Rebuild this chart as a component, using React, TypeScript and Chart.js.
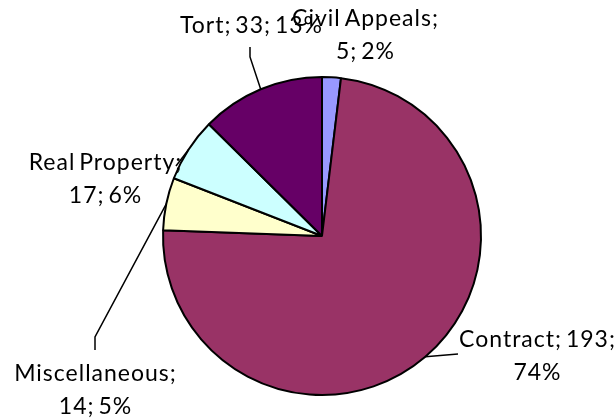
import React, { useEffect, useRef } from "react";
import { Chart, registerables } from "chart.js";

Chart.register(...registerables);

const categories = ["Civil Appeals", "Contract", "Miscellaneous", "Real Property", "Tort"];
const values = [5, 193, 14, 17, 33];
const colors = ["#9999FF", "#993366", "#FFFFCC", "#CCFFFF", "#660066"];

// label layout: centre x, baseline of first line, line break after which part (0 = single line), leader bend points
const labelLayout = [
  { cx: 365, by: 26, breakAfter: 1, leader: [] as number[][] },
  { cx: 537, by: 347, breakAfter: 2, leader: [[458, 354]] },
  { cx: 95, by: 381, breakAfter: 1, leader: [[95, 337], [95, 350]] },
  { cx: 105, by: 170, breakAfter: 1, leader: [[176, 166]] },
  { cx: 251, by: 33, breakAfter: 0, leader: [[250, 57], [250, 47]] },
];

const FONT = "23px Lato";
const LETTER_SPACING = 1.0;
const WORD_SPACING = -3;
const LINE_H = 33;

const labelPlugin = {
  id: "pieLabels",
  afterDraw(chart: any) {
    const ctx = chart.ctx as CanvasRenderingContext2D;
    const meta = chart.getDatasetMeta(0);
    const data = chart.data.datasets[0].data as number[];
    const total = data.reduce((a, b) => a + b, 0);
    ctx.save();
    meta.data.forEach((arc: any, i: number) => {
      const lay = labelLayout[i];
      const mid = (arc.startAngle + arc.endAngle) / 2;
      const ex = arc.x + Math.cos(mid) * arc.outerRadius;
      const ey = arc.y + Math.sin(mid) * arc.outerRadius;
      if (lay.leader.length) {
        ctx.beginPath();
        ctx.moveTo(ex, ey);
        lay.leader.forEach((p) => ctx.lineTo(p[0], p[1]));
        ctx.strokeStyle = "#000";
        ctx.lineWidth = 1.5;
        ctx.stroke();
      }
      const pct = Math.round((data[i] / total) * 100);
      const parts = [chart.data.labels[i], String(data[i]), pct + "%"];
      let lines: string[];
      if (lay.breakAfter === 0) lines = [parts.join("; ")];
      else
        lines = [
          parts.slice(0, lay.breakAfter).join("; ") + ";",
          parts.slice(lay.breakAfter).join("; "),
        ];
      ctx.font = FONT;
      (ctx as any).letterSpacing = LETTER_SPACING + "px";
      (ctx as any).wordSpacing = WORD_SPACING + "px";
      ctx.fillStyle = "#000";
      ctx.textAlign = "center";
      ctx.textBaseline = "alphabetic";
      lines.forEach((t, k) => ctx.fillText(t, lay.cx + LETTER_SPACING / 2, lay.by + k * LINE_H));
    });
    ctx.restore();
  },
};

export default function App() {
  const ref = useRef<HTMLCanvasElement>(null);
  useEffect(() => {
    if (!ref.current) return;
    const chart = new Chart(ref.current, {
      type: "pie",
      data: {
        labels: categories,
        datasets: [
          {
            data: values,
            backgroundColor: colors,
            borderColor: "#000",
            borderWidth: 2,
          },
        ],
      },
      options: {
        animation: false,
        responsive: true,
        maintainAspectRatio: false,
        layout: { padding: { left: 162, right: 134, top: 76, bottom: 22 } },
        plugins: { legend: { display: false }, tooltip: { enabled: false } },
      },
      plugins: [labelPlugin],
    });
    return () => chart.destroy();
  }, []);
  return (
    <div style={{ position: "fixed", left: 0, top: 0, width: 616, height: 418, background: "#fff" }}>
      <canvas ref={ref} />
    </div>
  );
}
